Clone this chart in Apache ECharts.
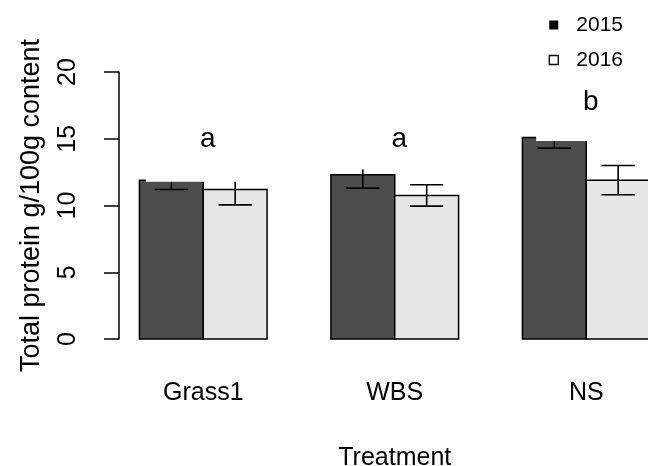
<!DOCTYPE html>
<html>
<head>
<meta charset="utf-8">
<script src="https://cdn.jsdelivr.net/npm/echarts@6/dist/echarts.min.js"></script>
<style>
  html, body { margin: 0; padding: 0; background: #fff; }
  #chart { width: 648px; height: 466px; }
</style>
</head>
<body>
<div id="chart"></div>
<script>
// Total protein per treatment, two seasons, mean +/- SE
const categories = ['Grass1', 'WBS', 'NS'];
const seriesNames = ['2015', '2016'];
const mean2015 = [11.9, 12.3, 15.1];
const se2015 = [0.7, 1.0, 0.8];
const mean2016 = [11.2, 10.75, 11.9];
const se2016 = [1.15, 0.8, 1.1];
const letters = ['a', 'a', 'b'];
const letterHeights = [14.95, 14.95, 17.7];
const yTicks = [0, 5, 10, 15, 20];

const FONT = '"Liberation Sans", Arial, Helvetica, sans-serif';
const fills = ['#4d4d4d', '#e6e6e6'];

// Bars sit on a unit-width layout: group i, bar j occupies [1+3i+j, 2+3i+j]
const barCenter = (i, j) => 1.5 + 3 * i + j;
const groupCenter = i => 2 + 3 * i;

// white backing boxes drawn behind the significance letters [x0, x1, yLow, yHigh]
const letterBackdrops = [
  [1.1, 3.0, 11.78, 17.5],
  [4.1, 6.0, 12.7, 17.5],
  [7.215, 9.32, 14.83, 19.5]
];

function barRenderer(fill) {
  return function (params, api) {
    const x = api.value(0), v = api.value(1);
    const p0 = api.coord([x - 0.5, v]);
    const p1 = api.coord([x + 0.5, 0]);
    return {
      type: 'rect',
      shape: { x: p0[0], y: p0[1], width: p1[0] - p0[0], height: p1[1] - p0[1] },
      style: { fill: fill, stroke: '#000', lineWidth: 1.5 }
    };
  };
}

function errRenderer(params, api) {
  const x = api.value(0), m = api.value(1), s = api.value(2);
  const hw = 0.26;
  const top = api.coord([x, m + s]);
  const bot = api.coord([x, m - s]);
  const l = api.coord([x - hw, 0])[0];
  const r = api.coord([x + hw, 0])[0];
  const st = { stroke: '#000', lineWidth: 1.6 };
  return {
    type: 'group',
    children: [
      { type: 'line', shape: { x1: top[0], y1: top[1], x2: bot[0], y2: bot[1] }, style: st },
      { type: 'line', shape: { x1: l, y1: top[1], x2: r, y2: top[1] }, style: st },
      { type: 'line', shape: { x1: l, y1: bot[1], x2: r, y2: bot[1] }, style: st }
    ]
  };
}

function letterRenderer(params, api) {
  const i = params.dataIndex;
  const b = letterBackdrops[i];
  const a = api.coord([b[0], b[3]]);
  const c = api.coord([b[1], b[2]]);
  const pos = api.coord([api.value(0), api.value(1)]);
  return {
    type: 'group',
    children: [
      { type: 'rect', shape: { x: a[0], y: a[1], width: c[0] - a[0], height: c[1] - a[1] },
        style: { fill: '#fff' } },
      { type: 'text', x: pos[0], y: pos[1],
        style: { text: letters[i], fill: '#000', font: '28px ' + FONT,
                 align: 'center', verticalAlign: 'middle' } }
    ]
  };
}

const chart = echarts.init(document.getElementById('chart'), null, { renderer: 'canvas' });

chart.setOption({
  animation: false,
  backgroundColor: '#fff',
  textStyle: { fontFamily: FONT },
  grid: { left: 119, width: 551.5, top: 72, height: 267, outerBoundsMode: 'none', containLabel: false },
  legend: {
    orient: 'vertical',
    right: 20,
    top: 8,
    itemWidth: 9,
    itemHeight: 9,
    itemGap: 11,
    selectedMode: false,
    textStyle: { fontSize: 21, color: '#000', fontFamily: FONT, lineHeight: 24, padding: [0, 0, 0, 13] },
    data: [
      { name: seriesNames[0], icon: 'rect', itemStyle: { color: '#000', borderWidth: 0 } },
      { name: seriesNames[1], icon: 'rect', itemStyle: { color: '#fff', borderColor: '#000', borderWidth: 1.3 } }
    ]
  },
  xAxis: {
    type: 'value',
    min: 0.68,
    max: 9.32,
    name: 'Treatment',
    nameLocation: 'middle',
    nameGap: 107,
    nameTextStyle: { fontSize: 25, color: '#000', fontFamily: FONT },
    axisLine: { show: false },
    axisTick: { show: false },
    splitLine: { show: false },
    axisLabel: {
      customValues: categories.map((c, i) => groupCenter(i)),
      formatter: v => categories[Math.round((v - 2) / 3)],
      fontSize: 25,
      color: '#000',
      fontFamily: FONT,
      margin: 42
    }
  },
  yAxis: {
    type: 'value',
    min: yTicks[0],
    max: yTicks[yTicks.length - 1],
    interval: 5,
    name: 'Total protein g/100g content',
    nameLocation: 'middle',
    nameGap: 74,
    nameTextStyle: { fontSize: 27, color: '#000', fontFamily: FONT },
    axisLine: { show: true, lineStyle: { color: '#000', width: 1.5 } },
    axisTick: { show: true, length: 15, lineStyle: { color: '#000', width: 1.5 } },
    splitLine: { show: false },
    axisLabel: { rotate: 90, margin: 38, fontSize: 25, color: '#000', fontFamily: FONT }
  },
  series: [
    {
      name: seriesNames[0], type: 'custom', z: 2,
      renderItem: barRenderer(fills[0]),
      itemStyle: { color: fills[0] },
      data: mean2015.map((m, i) => [barCenter(i, 0), m])
    },
    {
      name: seriesNames[1], type: 'custom', z: 2,
      renderItem: barRenderer(fills[1]),
      itemStyle: { color: fills[1] },
      data: mean2016.map((m, i) => [barCenter(i, 1), m])
    },
    {
      type: 'custom', z: 3, silent: true,
      renderItem: errRenderer,
      data: mean2015.map((m, i) => [barCenter(i, 0), m, se2015[i]])
        .concat(mean2016.map((m, i) => [barCenter(i, 1), m, se2016[i]]))
    },
    {
      type: 'custom', z: 4, silent: true,
      renderItem: letterRenderer,
      data: letters.map((l, i) => [groupCenter(i) + 0.07, letterHeights[i]])
    }
  ]
});
</script>
</body>
</html>
